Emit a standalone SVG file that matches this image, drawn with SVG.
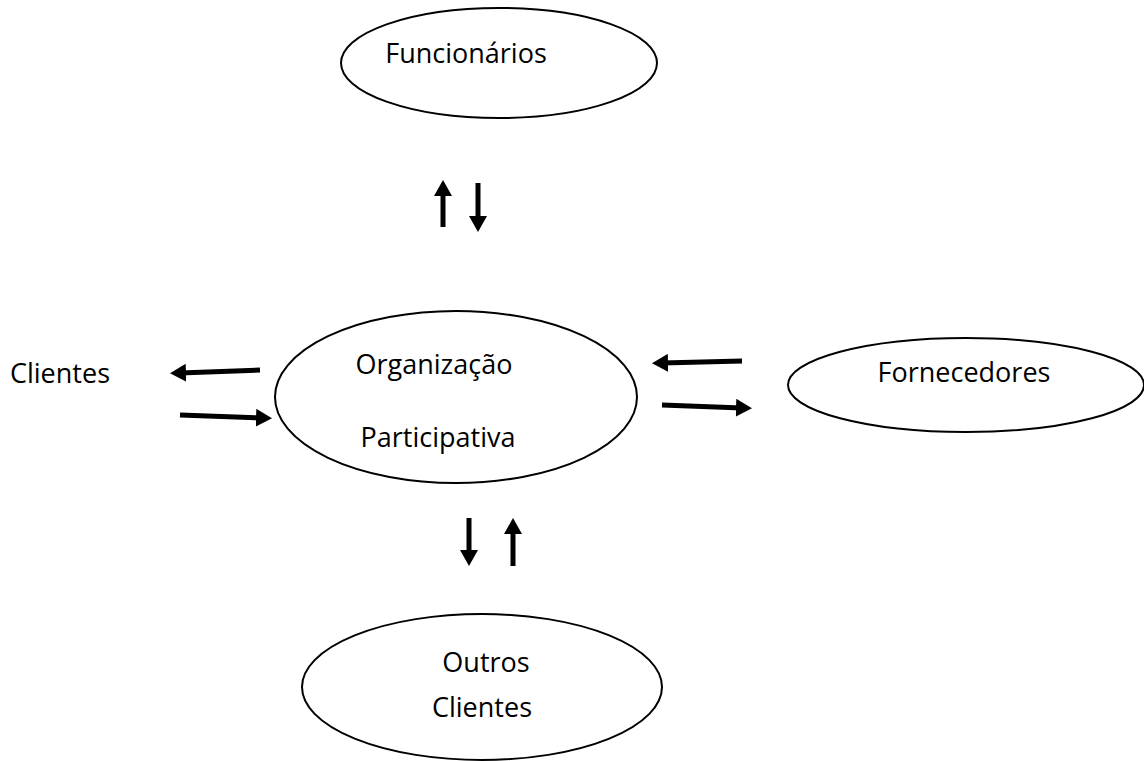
<svg xmlns="http://www.w3.org/2000/svg" width="1144" height="761" viewBox="0 0 1144 761">
<style>
.node ellipse{fill:#fff;stroke:#000;stroke-width:2}
text{font-family:"Open Sans","Liberation Sans",sans-serif;font-size:27px;fill:#000;text-anchor:middle}
.arr line{stroke:#000;stroke-width:5;marker-end:url(#ah)}
</style>
<defs>
<marker id="ah" viewBox="0 0 16 18" refX="6" refY="9" markerWidth="16" markerHeight="18" markerUnits="userSpaceOnUse" orient="auto">
<path d="M0,0 L16,9 L0,18 Z" fill="#000"/>
</marker>
</defs>
<rect width="1144" height="761" fill="#fff"/>
<g id="funcionarios" class="node">
<ellipse cx="499" cy="63" rx="158" ry="55"/>
<text x="466" y="63">Funcionários</text>
</g>
<g id="organizacao" class="node">
<ellipse cx="456" cy="397" rx="181" ry="86"/>
<text x="434" y="374">Organização</text>
<text x="438" y="447">Participativa</text>
</g>
<g id="clientes" class="node">
<text x="60" y="383">Clientes</text>
</g>
<g id="fornecedores" class="node">
<ellipse cx="966" cy="385" rx="178" ry="47"/>
<text x="964" y="382">Fornecedores</text>
</g>
<g id="outros-clientes" class="node">
<ellipse cx="482" cy="687" rx="180" ry="73"/>
<text x="486" y="672">Outros</text>
<text x="482" y="717">Clientes</text>
</g>
<g id="connectors" class="arr">
<line x1="443" y1="227" x2="443" y2="190"/>
<line x1="478" y1="183" x2="478" y2="222"/>
<line x1="260" y1="370" x2="180" y2="373"/>
<line x1="180" y1="415" x2="262" y2="418"/>
<line x1="742" y1="361" x2="662" y2="363"/>
<line x1="662" y1="405" x2="742" y2="408"/>
<line x1="469" y1="518" x2="469" y2="556"/>
<line x1="513" y1="566" x2="513" y2="528"/>
</g>
</svg>
